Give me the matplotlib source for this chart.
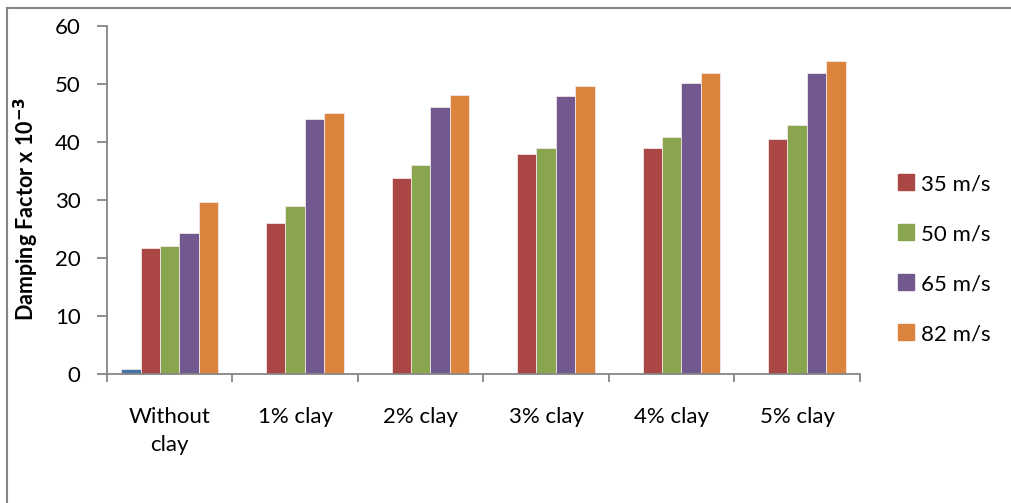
import matplotlib.pyplot as plt
import numpy as np
from matplotlib.lines import Line2D

# dados
categorias = ["Without\nclay", "1% clay", "2% clay", "3% clay", "4% clay", "5% clay"]
serie_base = [0.8, 0, 0, 0, 0, 0]   # serie sem legenda (barra azul)
v35 = [21.7, 26.1, 33.8, 38.0, 38.9, 40.6]
v50 = [22.0, 28.9, 36.0, 39.0, 40.9, 42.9]
v65 = [24.4, 43.9, 46.1, 48.0, 50.1, 51.9]
v82 = [29.6, 45.0, 48.1, 49.6, 51.9, 53.9]
nomes = ["35 m/s", "50 m/s", "65 m/s", "82 m/s"]

cores = ["#4572A7", "#AA4643", "#89A54E", "#71588F", "#DB843D"]
cinza = "#868686"

plt.rcParams['font.family'] = ['Lato', 'DejaVu Sans']

fig = plt.figure(figsize=(10.11, 5.03), dpi=100)
ax = fig.add_axes([0.1058, 0.2564, 0.7448, 0.6919])

x = np.arange(len(categorias))
w = 0.155
series = [serie_base, v35, v50, v65, v82]
for i, vals in enumerate(series):
    pos = x + (i - 2) * w
    vals = np.array(vals)
    m = vals > 0
    ax.bar(pos[m], vals[m], width=w, color=cores[i],
           edgecolor="#f2e6e6", linewidth=0.6)

ax.set_xlim(-0.5, len(categorias) - 0.5)
ax.set_ylim(0, 60)
ax.set_yticks(range(0, 61, 10))
ax.set_xticks(x)
ax.set_xticklabels(categorias, fontsize=16, linespacing=1.45)
ax.set_xticks(np.arange(-0.5, len(categorias)), minor=True)
ax.tick_params(axis='x', which='major', length=0, pad=24)
ax.tick_params(axis='x', which='minor', length=6, color=cinza, width=1.3)
ax.tick_params(axis='y', length=7, color=cinza, width=1.3, labelsize=16, pad=12)

for s in ['top', 'right']:
    ax.spines[s].set_visible(False)
for s in ['left', 'bottom']:
    ax.spines[s].set_color(cinza)
    ax.spines[s].set_linewidth(1.3)

ax.set_ylabel("Damping Factor x 10$^{\\mathbf{-3}}$", fontsize=15.5,
              fontweight='bold')
ax.yaxis.set_label_coords(-0.087, 0.475)

handles = [Line2D([], [], marker='s', linestyle='none', markersize=11,
                  color=cores[i + 1]) for i in range(4)]
fig.legend(handles, nomes, loc='center left', bbox_to_anchor=(0.863, 0.485),
           frameon=False, fontsize=16, labelspacing=1.35, handletextpad=0.1,
           handlelength=1.2)

# moldura externa do grafico
fig.add_artist(Line2D([7 / 1011, 7 / 1011], [0, 1 - 8 / 503],
                      transform=fig.transFigure, color=cinza, lw=1.5))
fig.add_artist(Line2D([7 / 1011, 1], [1 - 8 / 503, 1 - 8 / 503],
                      transform=fig.transFigure, color=cinza, lw=1.5))

plt.savefig("out.png", dpi=100)
